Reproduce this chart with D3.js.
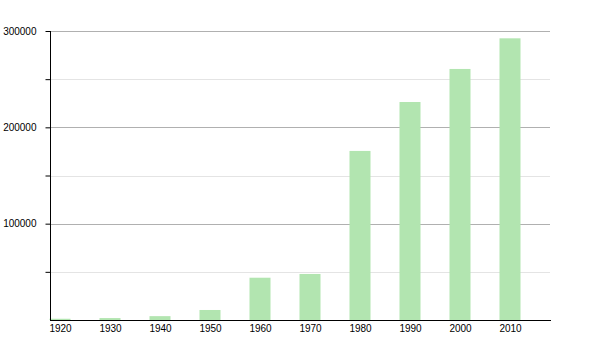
<!DOCTYPE html>
<html>
<head>
<meta charset="utf-8">
<script src="https://cdn.jsdelivr.net/npm/d3@7"></script>
<style>
  body { margin: 0; background: #fff; }
  text { font-family: "Liberation Sans", Arial, sans-serif; font-size: 10px; fill: #000; }
</style>
</head>
<body>
<div id="chart"></div>
<script>
const years = [1920, 1930, 1940, 1950, 1960, 1970, 1980, 1990, 2000, 2010];
const population = [1300, 2000, 4000, 10400, 43900, 47800, 175500, 226300, 260600, 292400];
const majorTicks = [100000, 200000, 300000];
const minorTicks = [50000, 150000, 250000];

const svg = d3.select("#chart")
  .append("svg")
  .attr("width", 600)
  .attr("height", 350);

const x = d3.scaleLinear().domain([1918, 2018]).range([50, 550]);
const y = d3.scaleLinear().domain([0, 300000]).range([320, 31]);
const barW = x(1922.2) - x(1918);

// gridlines
svg.append("g").selectAll("line")
  .data(minorTicks)
  .enter().append("line")
  .attr("x1", 50).attr("x2", 550)
  .attr("y1", d => Math.round(y(d)) + 0.5)
  .attr("y2", d => Math.round(y(d)) + 0.5)
  .attr("stroke", "#e4e4e4");

svg.append("g").selectAll("line")
  .data(majorTicks)
  .enter().append("line")
  .attr("x1", 50).attr("x2", 550)
  .attr("y1", d => Math.round(y(d)) + 0.5)
  .attr("y2", d => Math.round(y(d)) + 0.5)
  .attr("stroke", "#b0b0b0");

// bars
svg.selectAll(".bar")
  .data(years)
  .enter()
  .append("rect")
  .attr("class", "bar")
  .attr("x", d => x(d) - barW / 2)
  .attr("width", barW)
  .attr("y", (d, i) => y(population[i]))
  .attr("height", (d, i) => y(0) - y(population[i]))
  .attr("fill", "#b2e5b0");

// y axis
const yAxis = svg.append("g")
  .attr("transform", "translate(50.5,0)");
yAxis.call(d3.axisLeft(y).tickValues(majorTicks.concat(minorTicks)).tickSize(5)
  .tickFormat(d => majorTicks.includes(d) ? d : ""));
yAxis.select(".domain").attr("d", "M0,31V320");
yAxis.selectAll("text").attr("x", -14).style("font-size", "10px").style("font-family", "Liberation Sans, Arial, sans-serif");

// x axis
const xAxis = svg.append("g")
  .attr("transform", "translate(0,320.5)");
xAxis.call(d3.axisBottom(x).tickValues(years).tickSize(0).tickFormat(d3.format("d")));
xAxis.select(".domain").attr("d", "M50,0H551");
xAxis.selectAll("text").attr("dy", "0.71em").attr("y", 4).style("font-size", "10px").style("font-family", "Liberation Sans, Arial, sans-serif");
</script>
</body>
</html>
